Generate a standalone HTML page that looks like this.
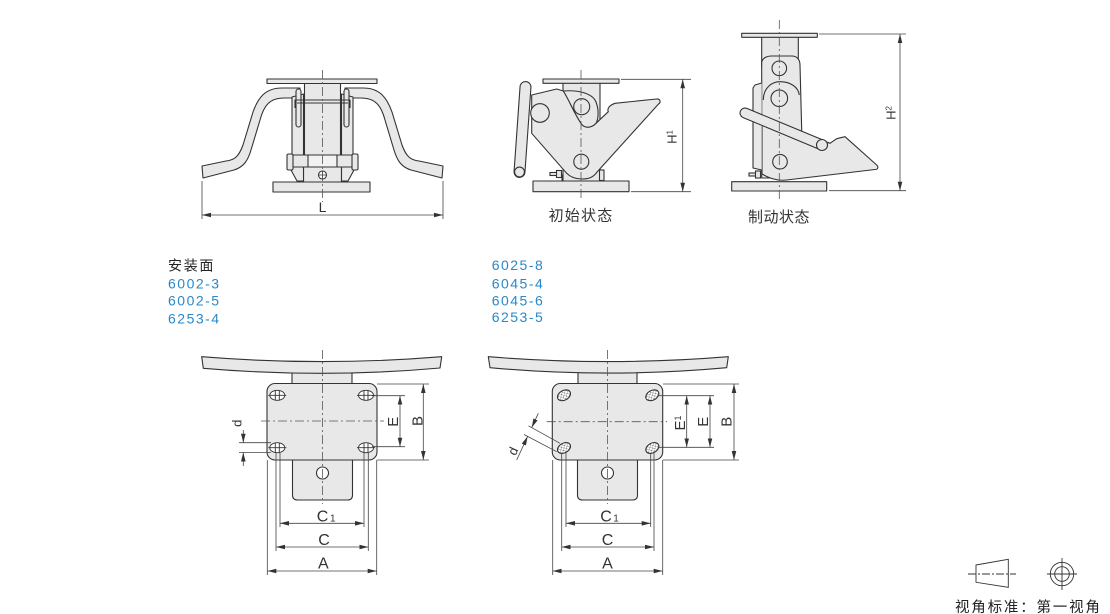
<!DOCTYPE html>
<html><head><meta charset="utf-8">
<style>
html,body{margin:0;padding:0;background:#fff;}
body{width:1110px;height:614px;overflow:hidden;position:relative;}
svg{position:absolute;left:0;top:0;}
</style></head><body>
<svg width="1110" height="614" viewBox="0 0 1110 614" xmlns="http://www.w3.org/2000/svg" font-family="'Liberation Sans','Noto Sans CJK SC',sans-serif">
<defs>
<marker id="ar" markerUnits="userSpaceOnUse" markerWidth="9" markerHeight="6" refX="9" refY="3" orient="auto-start-reverse"><path d="M0,0.7 L9,3 L0,5.3 Z" fill="#333"/></marker>
<pattern id="hx" width="3.6" height="3.6" patternUnits="userSpaceOnUse"><path d="M0,0 L3.6,3.6 M3.6,0 L0,3.6" stroke="#666" stroke-width="0.45"/></pattern>
</defs>

<!-- ============ TOP LEFT ============ -->
<g fill="#e8e8e8" stroke="#333" stroke-width="1.1" stroke-linejoin="round">
 <path d="M300,88 L282,88 C265,88 258,98 253,112 L243,145 C239,156 235,160 226,161 L202,166 L203,178 L234,170 C244,167 248,160 251,150 L260,120 C264,105 270,98 284,98 L300,98 Z"/>
 <path d="M345,88 L363,88 C380,88 387,98 392,112 L402,145 C406,156 410,160 419,161 L443,166 L442,178 L411,170 C401,167 397,160 394,150 L385,120 C381,105 375,98 361,98 L345,98 Z"/>
 <rect x="273" y="182" width="97" height="10"/>
 <rect x="303.5" y="166" width="38" height="16"/>
 <rect x="304.5" y="83.5" width="36" height="73"/>
 <rect x="267" y="79" width="110" height="4.5"/>
 <path d="M292,97 L303.5,94 L303.5,181 L297,181 L291,170 L291,158 L292,157 Z"/>
 <path d="M353,97 L341.5,94 L341.5,181 L348,181 L354,170 L354,158 L353,157 Z"/>
 <rect x="296" y="89" width="5" height="38" rx="2.5"/>
 <rect x="344" y="89" width="5" height="38" rx="2.5"/>
 <path d="M295,108 L295,100 L350,100 L350,108" fill="none"/>
 <path d="M297,103 L348,103" fill="none"/>
 <rect x="291" y="155" width="63" height="12"/>
 <rect x="308" y="155" width="29" height="12" fill="#f2f2f2"/>
 <rect x="287" y="154" width="6" height="16" rx="1.5"/>
 <rect x="352" y="154" width="6" height="16" rx="1.5"/>
 <circle cx="322.5" cy="175" r="4" fill="#fff"/>
 <path d="M318.5,175 L326.5,175 M322.5,171 L322.5,179" fill="none" stroke-width="0.8"/>
</g>
<line x1="322.5" y1="70" x2="322.5" y2="202" stroke="#555" stroke-width="0.8" stroke-dasharray="9 3 2 3"/>
<g stroke="#444" stroke-width="0.8" fill="none">
 <line x1="202" y1="181" x2="202" y2="219"/>
 <line x1="443" y1="181" x2="443" y2="219"/>
 <line x1="202" y1="215" x2="443" y2="215" marker-start="url(#ar)" marker-end="url(#ar)"/>
</g>
<text x="322.5" y="212" font-size="14" text-anchor="middle" fill="#333">L</text>

<!-- ============ TOP MIDDLE ============ -->
<g fill="#e8e8e8" stroke="#333" stroke-width="1.1" stroke-linejoin="round">
 <rect x="533" y="181" width="96" height="10.7"/>
 <rect x="562" y="175" width="40" height="6"/>
 <rect x="563" y="83" width="37" height="98"/>
 <rect x="543" y="79" width="76" height="4.3"/>
 <path d="M531.7,95 L556.7,89 L563.3,91 C568.3,98.3 575,115 581.7,124.3 C585,128.5 591.7,128 596,123.3 L608.3,111.7 C606.7,108.3 610,105 615,103.3 L656.7,99 C660,98.7 661.5,102 658.3,104.3 L597.3,171.7 C593.3,177.7 588.3,179 581.7,179 C575,179 570,176.7 566.7,173.3 L531.7,133.3 Z"/>
 <path d="M563.3,91 C575,90 592,92 596,102 C599.5,111 598,120 596,123.3 C591.7,128 585,128.5 581.7,124.3 C575,115 568.3,98.3 563.3,91 Z"/>
 <circle cx="540" cy="113" r="9.3"/>
</g>
<line x1="525.5" y1="87" x2="519.5" y2="172" stroke="#333" stroke-width="12" stroke-linecap="round"/>
<line x1="525.5" y1="87" x2="519.5" y2="172" stroke="#e8e8e8" stroke-width="9.8" stroke-linecap="round"/>
<g fill="#e8e8e8" stroke="#333" stroke-width="1.1">
 <circle cx="519.5" cy="172" r="4.9"/>
 <circle cx="581.7" cy="106.7" r="8"/>
 <circle cx="581.3" cy="161.7" r="7.5"/>
 <rect x="550" y="172.5" width="7" height="3"/>
 <rect x="556.5" y="170.5" width="5" height="7"/>
 <rect x="599.5" y="170" width="4.5" height="10.5"/>
</g>
<line x1="581" y1="70" x2="581" y2="199" stroke="#555" stroke-width="0.8" stroke-dasharray="9 3 2 3"/>
<g stroke="#444" stroke-width="0.8" fill="none">
 <line x1="621" y1="79.3" x2="691" y2="79.3"/>
 <line x1="631" y1="191.7" x2="691" y2="191.7"/>
 <line x1="682.7" y1="79.3" x2="682.7" y2="191.7" marker-start="url(#ar)" marker-end="url(#ar)"/>
</g>
<text transform="translate(676.5,137) rotate(-90)" font-size="13" text-anchor="middle" fill="#333">H<tspan font-size="8" dy="-4">1</tspan></text>
<text x="581" y="220.3" font-size="15" text-anchor="middle" letter-spacing="1.2" fill="#333">初始状态</text>

<!-- ============ TOP RIGHT ============ -->
<g fill="#e8e8e8" stroke="#333" stroke-width="1.1" stroke-linejoin="round">
 <rect x="731.7" y="181.7" width="95" height="9.3"/>
 <rect x="761.7" y="37" width="36.6" height="30"/>
 <rect x="741.7" y="33.3" width="75.6" height="4"/>
 <path d="M761.7,178 L761.7,63.3 C761.7,58.3 766.7,56 771.7,56 L791.7,56 C796.7,56 800,59.3 800,65 L801.7,130 L801.7,178 Z"/>
 <path d="M762,118 L830,143.3 L836.7,138.7 L845,136.7 L876.7,165 C878.8,167 878,169.5 875,169.5 L786.7,180 C778,181 770,179 762,174 Z"/>
 <path d="M761.7,83 L755,85 L753,88 L753,168 L761.7,170"/>
 <path d="M763.3,100 C763.3,88 771.7,81.7 780,81.7 C790,81.7 798.3,86.7 799.3,95" fill="none"/>
</g>
<line x1="745" y1="113" x2="822" y2="145" stroke="#333" stroke-width="11" stroke-linecap="round"/>
<line x1="745" y1="113" x2="822" y2="145" stroke="#e8e8e8" stroke-width="8.8" stroke-linecap="round"/>
<g fill="#e8e8e8" stroke="#333" stroke-width="1.1">
 <circle cx="822" cy="145" r="5.5"/>
 <circle cx="779.3" cy="68.3" r="7.3"/>
 <circle cx="779.3" cy="98.3" r="8.3"/>
 <circle cx="780" cy="161.7" r="7.3"/>
 <rect x="749" y="173" width="7" height="3"/>
 <rect x="755.5" y="171" width="5" height="7"/>
</g>
<line x1="779.3" y1="20" x2="779.3" y2="199" stroke="#555" stroke-width="0.8" stroke-dasharray="9 3 2 3"/>
<g stroke="#444" stroke-width="0.8" fill="none">
 <line x1="819" y1="34" x2="906" y2="34"/>
 <line x1="829" y1="190.7" x2="906" y2="190.7"/>
 <line x1="900" y1="34" x2="900" y2="190.7" marker-start="url(#ar)" marker-end="url(#ar)"/>
</g>
<text transform="translate(895.5,113) rotate(-90)" font-size="13" text-anchor="middle" fill="#333">H<tspan font-size="8" dy="-4">2</tspan></text>
<text x="779" y="222" font-size="15" text-anchor="middle" letter-spacing="0.5" fill="#333">制动状态</text>

<!-- ============ TEXT BLOCKS ============ -->
<text x="168" y="270.3" font-size="14" letter-spacing="1.7" fill="#222">安装面</text>
<g font-size="14" letter-spacing="1.5" fill="#2a88c8">
 <text x="168" y="288.3">6002-3</text>
 <text x="168" y="305.7">6002-5</text>
 <text x="168" y="323.3">6253-4</text>
 <text x="491.7" y="270">6025-8</text>
 <text x="491.7" y="288.3">6045-4</text>
 <text x="491.7" y="305.3">6045-6</text>
 <text x="491.7" y="322">6253-5</text>
</g>

<!-- ============ BOTTOM LEFT ============ -->
<g fill="#e8e8e8" stroke="#333" stroke-width="1.1" stroke-linejoin="round">
 <rect x="292" y="370" width="60" height="14"/>
 <path d="M201.7,356.7 Q322.5,366.5 441.7,356.7 L440,368 Q322.5,378.5 203.3,368.3 Z"/>
 <path d="M292.5,458 L292.5,495 Q292.5,500 297.5,500 L347.5,500 Q352.5,500 352.5,495 L352.5,458 Z"/>
 <rect x="267" y="383.5" width="110" height="76.5" rx="8"/>
 <circle cx="322.5" cy="473" r="6" fill="#fff"/>
</g>
<g stroke="#333" stroke-width="0.9" fill="#fff">
 <g transform="translate(277.3,395.3)"><ellipse rx="7.5" ry="5"/><path d="M-2,-4.6 V4.6 M2,-4.6 V4.6 M-9,0 H9" fill="none"/></g>
 <g transform="translate(366,395.3)"><ellipse rx="7.5" ry="5"/><path d="M-2,-4.6 V4.6 M2,-4.6 V4.6 M-9,0 H9" fill="none"/></g>
 <g transform="translate(277.3,447.7)"><ellipse rx="7.5" ry="5"/><path d="M-2,-4.6 V4.6 M2,-4.6 V4.6 M-9,0 H9" fill="none"/></g>
 <g transform="translate(366,447.7)"><ellipse rx="7.5" ry="5"/><path d="M-2,-4.6 V4.6 M2,-4.6 V4.6 M-9,0 H9" fill="none"/></g>
</g>
<g stroke="#555" stroke-width="0.8" stroke-dasharray="9 3 2 3">
 <line x1="322.5" y1="350" x2="322.5" y2="504"/>
 <line x1="261" y1="421" x2="384" y2="421"/>
</g>
<g stroke="#444" stroke-width="0.8" fill="none">
 <line x1="372" y1="395.7" x2="405" y2="395.7"/>
 <line x1="372" y1="446.7" x2="405" y2="446.7"/>
 <line x1="400" y1="395.7" x2="400" y2="446.7" marker-start="url(#ar)" marker-end="url(#ar)"/>
 <line x1="377" y1="384" x2="429" y2="384"/>
 <line x1="377" y1="460" x2="429" y2="460"/>
 <line x1="423.3" y1="384" x2="423.3" y2="460" marker-start="url(#ar)" marker-end="url(#ar)"/>
 <line x1="239" y1="442.7" x2="271" y2="442.7"/>
 <line x1="239" y1="452.5" x2="271" y2="452.5"/>
 <line x1="243.3" y1="430" x2="243.3" y2="442.7" marker-end="url(#ar)"/>
 <line x1="243.3" y1="466" x2="243.3" y2="452.5" marker-end="url(#ar)"/>
 <line x1="267.3" y1="460" x2="267.3" y2="575"/>
 <line x1="376.7" y1="460" x2="376.7" y2="575"/>
 <line x1="276" y1="453" x2="276" y2="551"/>
 <line x1="368.3" y1="453" x2="368.3" y2="551"/>
 <line x1="280" y1="453" x2="280" y2="527"/>
 <line x1="364" y1="453" x2="364" y2="527"/>
 <line x1="280" y1="523.3" x2="364" y2="523.3" marker-start="url(#ar)" marker-end="url(#ar)"/>
 <line x1="276" y1="547" x2="368.3" y2="547" marker-start="url(#ar)" marker-end="url(#ar)"/>
 <line x1="267.3" y1="571" x2="376.7" y2="571" marker-start="url(#ar)" marker-end="url(#ar)"/>
</g>
<g fill="#333" font-size="15" text-anchor="middle">
 <text transform="translate(398,421.7) rotate(-90)">E</text>
 <text transform="translate(422.5,421) rotate(-90)">B</text>
 <text transform="translate(241.7,423.3) rotate(-90)" font-size="13">d</text>
</g>
<g fill="#333" font-size="16">
 <text x="322.5" y="521.5" text-anchor="middle">C</text><text x="330" y="521.5" font-size="10">1</text>
 <text x="324" y="545" text-anchor="middle">C</text>
 <text x="323.3" y="568.3" text-anchor="middle">A</text>
</g>

<!-- ============ BOTTOM RIGHT ============ -->
<g fill="#e8e8e8" stroke="#333" stroke-width="1.1" stroke-linejoin="round">
 <rect x="578" y="370" width="59" height="14"/>
 <path d="M488.3,356.7 Q608,366.5 728.3,356.7 L726.7,367.7 Q608,378.5 490,367.7 Z"/>
 <path d="M577.5,458 L577.5,495 Q577.5,500 582.5,500 L632.5,500 Q637.5,500 637.5,495 L637.5,458 Z"/>
 <rect x="552.3" y="383.5" width="110.4" height="76.5" rx="8"/>
 <circle cx="607.5" cy="473" r="6" fill="#fff"/>
</g>
<g stroke="#333" stroke-width="0.9">
 <g transform="translate(564,395.3) rotate(-30)"><ellipse rx="7" ry="4.8" fill="#fff"/><ellipse rx="7" ry="4.8" fill="url(#hx)"/></g>
 <g transform="translate(652.3,395.3) rotate(-30)"><ellipse rx="7" ry="4.8" fill="#fff"/><ellipse rx="7" ry="4.8" fill="url(#hx)"/></g>
 <g transform="translate(564,448) rotate(-30)"><ellipse rx="7" ry="4.8" fill="#fff"/><ellipse rx="7" ry="4.8" fill="url(#hx)"/></g>
 <g transform="translate(652.3,448) rotate(-30)"><ellipse rx="7" ry="4.8" fill="#fff"/><ellipse rx="7" ry="4.8" fill="url(#hx)"/></g>
</g>
<g stroke="#555" stroke-width="0.8" stroke-dasharray="9 3 2 3">
 <line x1="607.5" y1="350" x2="607.5" y2="504"/>
 <line x1="546.7" y1="421.7" x2="667" y2="421.7"/>
</g>
<g stroke="#444" stroke-width="0.8" fill="none">
 <line x1="659" y1="395.7" x2="714" y2="395.7"/>
 <line x1="659" y1="447.3" x2="714" y2="447.3"/>
 <line x1="686.7" y1="395.7" x2="686.7" y2="447.3" marker-start="url(#ar)" marker-end="url(#ar)"/>
 <line x1="710" y1="395.7" x2="710" y2="447.3" marker-start="url(#ar)" marker-end="url(#ar)"/>
 <line x1="663" y1="384" x2="739" y2="384"/>
 <line x1="663" y1="460" x2="739" y2="460"/>
 <line x1="734" y1="384" x2="734" y2="460" marker-start="url(#ar)" marker-end="url(#ar)"/>
 <line x1="560" y1="443.3" x2="528.5" y2="425.8"/>
 <line x1="556.7" y1="451.7" x2="524" y2="434.5"/>
 <line x1="538.3" y1="413.3" x2="531.7" y2="427.6" marker-end="url(#ar)"/>
 <line x1="516.7" y1="460" x2="527.6" y2="436.4" marker-end="url(#ar)"/>
 <line x1="552.7" y1="460" x2="552.7" y2="575"/>
 <line x1="662.7" y1="460" x2="662.7" y2="575"/>
 <line x1="561.7" y1="453" x2="561.7" y2="551"/>
 <line x1="654" y1="453" x2="654" y2="551"/>
 <line x1="566" y1="453" x2="566" y2="527"/>
 <line x1="650.7" y1="453" x2="650.7" y2="527"/>
 <line x1="566" y1="523.3" x2="650.7" y2="523.3" marker-start="url(#ar)" marker-end="url(#ar)"/>
 <line x1="561.7" y1="547" x2="654" y2="547" marker-start="url(#ar)" marker-end="url(#ar)"/>
 <line x1="552.7" y1="571" x2="662.7" y2="571" marker-start="url(#ar)" marker-end="url(#ar)"/>
</g>
<g fill="#333" font-size="15" text-anchor="middle">
 <text transform="translate(685,423) rotate(-90)">E<tspan font-size="9" dy="-4">1</tspan></text>
 <text transform="translate(708,421.7) rotate(-90)">E</text>
 <text transform="translate(731.5,421.7) rotate(-90)">B</text>
 <text transform="translate(517,453) rotate(-65)" font-size="13">d</text>
</g>
<g fill="#333" font-size="16">
 <text x="606" y="521.5" text-anchor="middle">C</text><text x="613.3" y="521.5" font-size="10">1</text>
 <text x="607.5" y="545" text-anchor="middle">C</text>
 <text x="607.5" y="568.3" text-anchor="middle">A</text>
</g>

<!-- ============ PROJECTION SYMBOL ============ -->
<g stroke="#333" stroke-width="0.9" fill="none">
 <path d="M976,565 L1008.3,559.3 L1008.3,587.3 L976,582.3 Z"/>
 <line x1="968" y1="574" x2="1016" y2="574" stroke-dasharray="8 2 2 2"/>
 <circle cx="1062" cy="574" r="11.7"/>
 <circle cx="1062" cy="574" r="7.3"/>
 <line x1="1047" y1="574" x2="1077" y2="574"/>
 <line x1="1062" y1="558" x2="1062" y2="590"/>
</g>
<text x="955" y="612" font-size="14.5" letter-spacing="1.8" fill="#222">视角标准：第一视角</text>
</svg>
</body></html>
